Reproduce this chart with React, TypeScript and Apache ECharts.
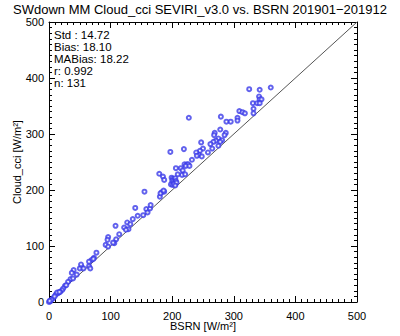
import React, { useEffect, useRef } from "react";
import * as echarts from "echarts";

const titleText = "SWdown MM Cloud_cci SEVIRI_v3.0 vs. BSRN 201901\u2212201912";
const statsLines = ["Std : 14.72", "Bias: 18.10", "MABias: 18.22", "r: 0.992", "n: 131"];
const xName = "BSRN [W/m\u00B2]";
const yName = "Cloud_cci [W/m\u00B2]";

// BSRN values (x)
const bsrn: number[] = [
  325, 342, 360, 341, 342, 345, 331, 338, 342, 332, 332, 309, 314, 318, 306, 306, 288, 295, 279,
  227,
  278, 269, 268, 287, 285, 275, 281, 271, 267, 278, 262, 265, 275, 258, 247, 250, 245, 243, 239, 240, 248, 232, 219, 197,
  220, 224, 226, 222, 228, 206, 214, 217, 216, 221, 209, 179, 185, 187,
  199, 201, 203, 205, 200, 202, 204, 206, 198, 201, 203, 207, 205,
  155,
  180, 183, 187, 181, 186, 153, 158, 160, 164, 165, 140, 144, 136,
  127, 132, 129, 122, 125, 114, 108, 109, 106, 96, 95, 92, 96, 104,
  77, 73, 69, 65, 72, 65, 67, 53, 50, 56, 52, 45, 40, 37,
  35, 39, 31, 26, 28, 23, 21, 18, 15, 11, 7, 2, 0, 13, 17, 9, 4, 1,
];
// Cloud_cci values (y)
const cloudcci: number[] = [
  380, 379, 383, 367, 362, 362, 355, 355, 355, 345, 337, 341, 339, 337, 329, 324, 322, 322, 331,
  329,
  308, 302, 298, 302, 298, 292, 289, 288, 286, 286, 282, 274, 279, 267, 285, 274, 270, 263, 267, 261, 260, 254, 273, 268,
  246, 246, 246, 243, 243, 239, 239, 235, 227, 228, 228, 229, 224, 218,
  222, 220, 218, 221, 216, 214, 212, 216, 210, 209, 211, 213, 208,
  197,
  188, 196, 197, 194, 199, 155, 166, 160, 167, 173, 168, 154, 148,
  142, 139, 130, 133, 129, 121, 136, 112, 105, 116, 111, 102, 99, 106,
  88, 79, 75, 72, 77, 64, 60, 62, 60, 60, 67, 49, 57, 52,
  41, 42, 36, 29, 30, 24, 21, 18, 16, 13, 7, 1, 0, 17, 18, 10, 4, 2,
];
const oneToOne = [[0, 0], [500, 500]];

const FONT = "Liberation Sans, Arial, sans-serif";

export default function App() {
  const ref = useRef<HTMLDivElement>(null);
  useEffect(() => {
    const chart = echarts.init(ref.current!, null, { renderer: "svg" });
    const points = bsrn.map((x, i) => [x, cloudcci[i]]);
    const axisCommon = {
      type: "value" as const,
      min: 0,
      max: 500,
      interval: 100,
      axisLine: { show: true, onZero: false, lineStyle: { color: "#000", width: 1 } },
      axisTick: { show: true, inside: true, length: 6, lineStyle: { color: "#000" } },
      minorTick: { show: true, splitNumber: 10, length: 3, lineStyle: { color: "#000" } },
      splitLine: { show: false },
    };
    chart.setOption({
      animation: false,
      backgroundColor: "#fff",
      title: {
        text: titleText,
        left: "center",
        top: 2,
        padding: 0,
        textStyle: { fontSize: 13, lineHeight: 14, fontWeight: "normal", color: "#000", fontFamily: FONT },
      },
      grid: { left: 49, top: 22, width: 308, height: 280 },
      xAxis: [
        {
          ...axisCommon,
          position: "bottom",
          axisLabel: { show: true, color: "#000", fontSize: 11, margin: 8, fontFamily: FONT },
        },
        { ...axisCommon, position: "top", axisLabel: { show: false } },
      ],
      yAxis: [
        {
          ...axisCommon,
          position: "left",
          axisLabel: { show: true, color: "#000", fontSize: 11, margin: 5, fontFamily: FONT },
        },
        { ...axisCommon, position: "right", axisLabel: { show: false } },
      ],
      graphic: [
        {
          type: "text",
          left: 54,
          top: 29,
          style: {
            text: statsLines.join("\n"),
            fontSize: 11.5,
            lineHeight: 12,
            fill: "#000",
            fontFamily: FONT,
          },
        },
        {
          type: "text",
          x: 203,
          y: 326,
          style: {
            text: xName,
            fontSize: 11,
            fill: "#000",
            fontFamily: FONT,
            align: "center",
            verticalAlign: "middle",
          },
        },
        {
          type: "text",
          x: 17,
          y: 162,
          rotation: Math.PI / 2,
          style: {
            text: yName,
            fontSize: 11,
            fill: "#000",
            fontFamily: FONT,
            align: "center",
            verticalAlign: "middle",
          },
        },
      ],
      series: [
        {
          type: "line",
          data: oneToOne,
          symbol: "none",
          lineStyle: { color: "#555", width: 1 },
          silent: true,
          z: 1,
        },
        {
          type: "scatter",
          data: points,
          symbol: "emptyCircle",
          symbolSize: 4,
          itemStyle: { color: "#3b3be8", borderColor: "#3b3be8", borderWidth: 0.9, opacity: 0.8 },
          z: 2,
        },
      ],
    });
    return () => chart.dispose();
  }, []);
  return (
    <div
      ref={ref}
      style={{ position: "absolute", left: 0, top: 0, width: 400, height: 336 }}
    />
  );
}
